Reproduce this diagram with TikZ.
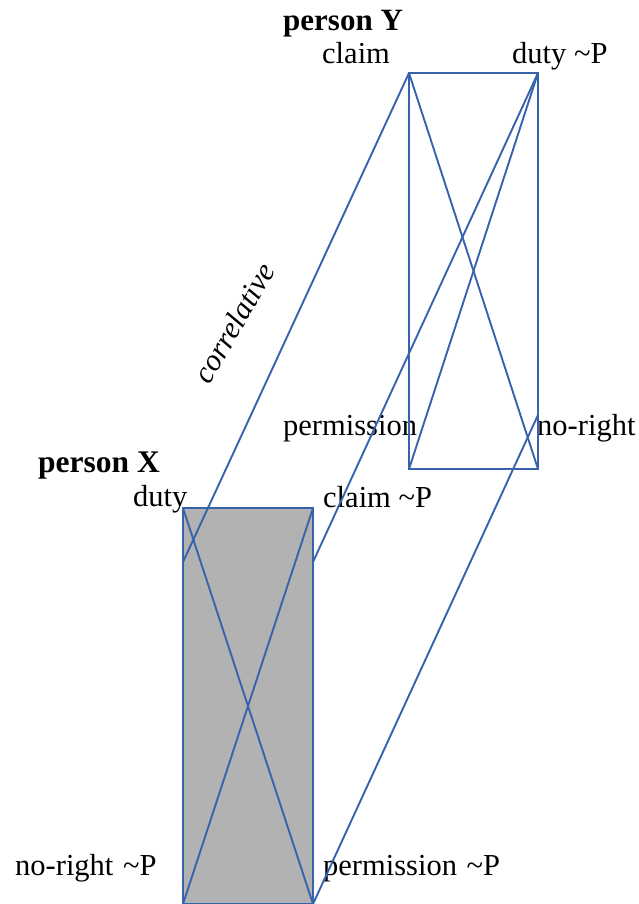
\documentclass[tikz,border=0pt]{standalone}
\usepackage{fontspec}
\setmainfont{Liberation Serif}
\definecolor{edgeblue}{RGB}{55,98,172}
\definecolor{boxgray}{RGB}{178,178,178}
\begin{document}
\begin{tikzpicture}[x=1pt,y=-1pt,
  lbl/.style={inner sep=0pt,anchor=base west,font=\fontsize{30.5}{36}\selectfont},
  edge/.style={draw=edgeblue,line width=1.9pt,line join=miter}]
\useasboundingbox (0,0) rectangle (639,904);
% corners
\coordinate (yTL) at (409,73);
\coordinate (yTR) at (538,73);
\coordinate (yBL) at (409,469);
\coordinate (yBR) at (538,469);
\coordinate (xTL) at (183,508);
\coordinate (xTR) at (313,508);
\coordinate (xBL) at (183,904);
\coordinate (xBR) at (313,904);
\coordinate (pA) at (183,562);
\coordinate (pB) at (313,562);
\coordinate (pC) at (538,415);
% labels
\node[lbl,font=\fontsize{31}{36}\selectfont\bfseries] (personY) at (283,31) {person Y};
\node[lbl] (claimY) at (322,64) {claim};
\node[lbl] (dutyY) at (512,64) {duty \textasciitilde P};
\node[lbl] (permY) at (283,435) {permission};
\node[lbl] (norightY) at (537,435) {no-right};
\node[lbl,font=\fontsize{31.5}{36}\selectfont\bfseries] (personX) at (38,472) {person X};
\node[lbl] (dutyX) at (133,506) {duty};
\node[lbl] (claimX) at (323,507) {claim \textasciitilde P};
\node[lbl] (norightX) at (15,875) {no-right \hspace{2pt}\textasciitilde P};
\node[lbl] (permX) at (323,875) {permission \hspace{2pt}\textasciitilde P};
\node[inner sep=0pt,anchor=base,rotate=60,font=\fontsize{30.5}{36}\selectfont\itshape] (corr) at (243,328) {correlative};
% bottom box
\fill[boxgray] (xTL) rectangle (xBR);
\draw[edge] (xTL) -- (xTR) -- (xBR) -- (xBL) -- cycle;
\draw[edge] (xTL) -- (xBR);
\draw[edge] (xTR) -- (xBL);
% top box
\draw[edge] (yTL) -- (yTR) -- (yBR) -- (yBL) -- cycle;
\draw[edge] (yTL) -- (yBR);
\draw[edge] (yTR) -- (yBL);
% connectors
\draw[edge] (yTL) -- (pA);
\draw[edge] (yTR) -- (pB);
\draw[edge] (pC) -- (xBR);
\end{tikzpicture}
\end{document}
